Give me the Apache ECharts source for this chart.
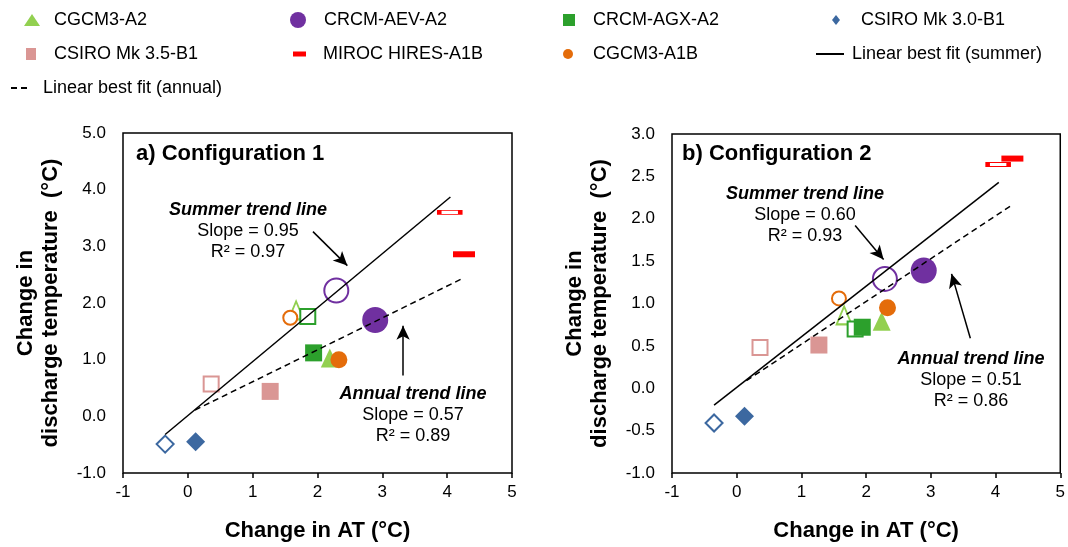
<!DOCTYPE html>
<html>
<head>
<meta charset="utf-8">
<script src="https://cdn.jsdelivr.net/npm/echarts@6/dist/echarts.min.js"></script>
<style>
  html, body { margin: 0; padding: 0; background: #fff; }
  #main { width: 1068px; height: 547px; }
</style>
</head>
<body>
<div id="main"></div>
<script>
var FONT = '"Liberation Sans", Arial, sans-serif';

// models, in legend order
var models = ['CGCM3-A2', 'CRCM-AEV-A2', 'CRCM-AGX-A2', 'CSIRO Mk 3.0-B1',
              'CSIRO Mk 3.5-B1', 'MIROC HIRES-A1B', 'CGCM3-A1B'];

// [change in AT, change in discharge temperature] per model
// summer = open markers, annual = filled markers
var cfg1Summer = [[1.67, 1.87], [2.29, 2.22], [1.85, 1.76], [-0.35, -0.49], [0.36, 0.57], [4.04, 3.60], [1.58, 1.74]];
var cfg1Annual = [[2.19, 1.03], [2.89, 1.70], [1.94, 1.12], [0.12, -0.45], [1.27, 0.44], [4.26, 2.86], [2.33, 1.00]];
var cfg2Summer = [[1.66, 0.86], [2.29, 1.29], [1.83, 0.70], [-0.35, -0.41], [0.36, 0.48], [4.04, 2.64], [1.58, 1.06]];
var cfg2Annual = [[2.24, 0.79], [2.89, 1.39], [1.94, 0.72], [0.12, -0.33], [1.27, 0.51], [4.26, 2.71], [2.33, 0.95]];

// best fit lines (end points)
var cfg1SummerFit = [[-0.35, -0.32], [4.05, 3.87]];
var cfg1AnnualFit = [[0.11, 0.11], [4.25, 2.44]];
var cfg2SummerFit = [[-0.35, -0.20], [4.05, 2.43]];
var cfg2AnnualFit = [[0.15, 0.09], [4.25, 2.16]];

// annotation arrows (tail, head)
var cfg1SummerArrow = [[1.93, 3.26], [2.46, 2.66]];
var cfg1AnnualArrow = [[3.32, 0.72], [3.32, 1.60]];
var cfg2SummerArrow = [[1.83, 1.92], [2.27, 1.52]];
var cfg2AnnualArrow = [[3.61, 0.59], [3.32, 1.35]];

var cfg1SummerText = ['Summer trend line', 'Slope = 0.95', 'R\u00b2 = 0.97'];
var cfg1AnnualText = ['Annual trend line', 'Slope = 0.57', 'R\u00b2 = 0.89'];
var cfg2SummerText = ['Summer trend line', 'Slope = 0.60', 'R\u00b2 = 0.93'];
var cfg2AnnualText = ['Annual trend line', 'Slope = 0.51', 'R\u00b2 = 0.86'];

var xTicks = [-1, 0, 1, 2, 3, 4, 5];
var fitNames = ['Linear best fit (summer)', 'Linear best fit (annual)'];

// styles
var colors = ['#92D050', '#7030A0', '#2CA02C', '#3C68A0', '#DA9694', '#FF0000', '#E46C0A'];
var symbols = ['triangle', 'circle', 'rect', 'diamond', 'rect', 'rect', 'circle'];
var sizeFilled = [[18, 19], 26, 17, 19, 17, [22, 6], 17];
var sizeOpen = [[15, 18], 24, 15, 17, 15, [21, 4], 14];

// legend layout: [left, top, iconW, iconH, textPad]
var legendPos = [[24, 11, 16, 12, 9], [290, 11, 16, 16, 13], [563, 11, 12, 12, 13], [832, 11, 8, 10, 16],
                 [26, 45, 10, 12, 13], [293, 45, 13, 5, 12], [563, 45, 10, 10, 15]];
var fitLegendPos = [[815, 45, 28, 12, 3], [10, 79, 18, 12, 9]];

function pointSeries(pts, i, grid, open) {
  return {
    name: open ? models[i] + ' (summer)' : models[i],
    type: 'scatter',
    xAxisIndex: grid,
    yAxisIndex: grid,
    symbol: symbols[i],
    symbolSize: open ? sizeOpen[i] : sizeFilled[i],
    itemStyle: open ? { color: '#fff', borderColor: colors[i], borderWidth: 2, opacity: 1 }
                    : { color: colors[i], opacity: 1 },
    z: 2,
    data: [pts[i]]
  };
}

function fitSeries(name, pts, grid, dashed, arrow) {
  return {
    name: name,
    type: 'line',
    xAxisIndex: grid,
    yAxisIndex: grid,
    symbol: 'none',
    z: 3,
    itemStyle: { color: '#000' },
    lineStyle: { color: '#000', width: 1.5, type: dashed ? [6, 4] : 'solid' },
    data: pts,
    markLine: {
      silent: true,
      symbol: ['none', 'arrow'],
      symbolSize: [10, 14],
      label: { show: false },
      lineStyle: { color: '#000', width: 1.5, type: 'solid' },
      data: [[{ coord: arrow[0] }, { coord: arrow[1] }]]
    }
  };
}

var series = [];
models.forEach(function (m, i) { series.push(pointSeries(cfg1Annual, i, 0, false)); });
models.forEach(function (m, i) {
  series.push(pointSeries(cfg1Summer, i, 0, true));
  series.push(pointSeries(cfg2Summer, i, 1, true));
  series.push(pointSeries(cfg2Annual, i, 1, false));
});
series.push(fitSeries(fitNames[0], cfg1SummerFit, 0, false, cfg1SummerArrow));
series.push(fitSeries(fitNames[1], cfg1AnnualFit, 0, true, cfg1AnnualArrow));
series.push(fitSeries(fitNames[0], cfg2SummerFit, 1, false, cfg2SummerArrow));
series.push(fitSeries(fitNames[1], cfg2AnnualFit, 1, true, cfg2AnnualArrow));

function legendItem(name, p, lineOnly) {
  var lg = {
    data: [name],
    left: p[0],
    top: p[1],
    itemWidth: p[2],
    itemHeight: p[3],
    padding: 0,
    symbolKeepAspect: false,
    selectedMode: false,
    textStyle: { fontFamily: FONT, fontSize: 18, color: '#000', lineHeight: 18, padding: [0, 0, 0, p[4]] }
  };
  if (lineOnly) lg.itemStyle = { opacity: 0 };
  return lg;
}
var legends = models.map(function (m, i) { return legendItem(m, legendPos[i], false); });
legends.push(legendItem(fitNames[0], fitLegendPos[0], true));
legends.push(legendItem(fitNames[1], fitLegendPos[1], true));

function xAxisOf(grid) {
  return {
    type: 'value', gridIndex: grid, min: -1, max: 5, interval: 1,
    name: 'Change in AT (\u00b0C)', nameLocation: 'middle', nameGap: 47,
    nameTextStyle: { fontFamily: FONT, fontSize: 22, fontWeight: 'bold', color: '#000', lineHeight: 22 },
    axisLine: { show: false, onZero: false },
    axisTick: { show: true, inside: false, length: 5, lineStyle: { color: '#000', width: 1.5 } },
    axisLabel: { fontFamily: FONT, fontSize: 17, color: '#000', margin: 11,
      formatter: function (v) { return xTicks.indexOf(v) >= 0 ? String(v) : ''; } },
    splitLine: { show: false }
  };
}
function yAxisOf(grid, max, step) {
  return {
    type: 'value', gridIndex: grid, min: -1, max: max, interval: step,
    name: 'Change in\ndischarge temperature  (\u00b0C)', nameLocation: 'middle', nameGap: 60, nameRotate: 90,
    nameTextStyle: { fontFamily: FONT, fontSize: 22, fontWeight: 'bold', color: '#000', lineHeight: 25 },
    axisLine: { show: false, onZero: false },
    axisTick: { show: false },
    axisLabel: { fontFamily: FONT, fontSize: 17, color: '#000', margin: 17,
      formatter: function (v) { return v.toFixed(1); } },
    splitLine: { show: false }
  };
}

function textEl(x, y, text, font) {
  return {
    type: 'text', silent: true,
    style: { x: x, y: y, text: text, font: font, fill: '#000',
      align: 'center', verticalAlign: 'middle', textAlign: 'center', textVerticalAlign: 'middle' }
  };
}
function note(x, y, lines) {
  return [
    textEl(x, y, lines[0], 'italic bold 18px ' + FONT),
    textEl(x, y + 21, lines[1], '18px ' + FONT),
    textEl(x, y + 42, lines[2], '18px ' + FONT)
  ];
}
var graphics = []
  .concat(note(248, 210, cfg1SummerText))
  .concat(note(413, 394, cfg1AnnualText))
  .concat(note(805, 194, cfg2SummerText))
  .concat(note(971, 359, cfg2AnnualText));

var chart = echarts.init(document.getElementById('main'));
chart.setOption({
  backgroundColor: '#fff',
  animation: false,
  title: [
    { text: 'a) Configuration 1', left: 136, top: 142, padding: 0,
      textStyle: { fontFamily: FONT, fontSize: 22, fontWeight: 'bold', color: '#000', lineHeight: 24 } },
    { text: 'b) Configuration 2', left: 682, top: 142, padding: 0,
      textStyle: { fontFamily: FONT, fontSize: 22, fontWeight: 'bold', color: '#000', lineHeight: 24 } }
  ],
  legend: legends,
  grid: [
    { left: 123, top: 133, width: 389, height: 346, show: true, borderColor: '#000', borderWidth: 1.5, backgroundColor: 'transparent' },
    { left: 672, top: 134, width: 390, height: 345, show: true, borderColor: '#000', borderWidth: 1.5, backgroundColor: 'transparent' }
  ],
  xAxis: [xAxisOf(0), xAxisOf(1)],
  yAxis: [yAxisOf(0, 5, 1), yAxisOf(1, 3, 0.5)],
  graphic: graphics,
  series: series
});
</script>
</body>
</html>
